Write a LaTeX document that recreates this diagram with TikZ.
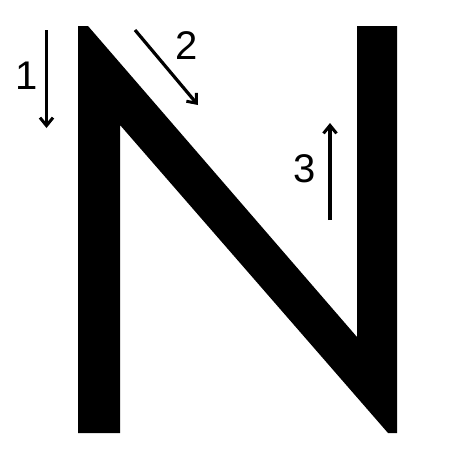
\documentclass[tikz,border=0pt]{standalone}
\usepackage{fontspec}
\setmainfont{Liberation Sans}
\usetikzlibrary{arrows.meta}
\tikzset{
  strokearrow/.style={line width=3.2pt, -{Straight Barb[length=8pt,width=13pt,line width=3pt]}},
  numlabel/.style={font=\fontsize{40}{42}\selectfont, inner sep=0pt}
}
\begin{document}
\begin{tikzpicture}[x=1pt,y=-1pt]
\useasboundingbox (0,0) rectangle (450,450);
% letter N
\fill[black] (78,26) -- (88,26) -- (357,337) -- (357,26) -- (397,26) -- (397,433)
  -- (388,433) -- (120,125) -- (120,433) -- (78,433) -- cycle;
% arrows
\coordinate (a1s) at (46.5,30);
\coordinate (a1e) at (46.5,128);
\coordinate (a2s) at (135,30);
\coordinate (a2e) at (198,105);
\coordinate (a3s) at (330,220);
\coordinate (a3e) at (330,123);
\draw[strokearrow] (a1s) -- (a1e);
\draw[strokearrow] (a2s) -- (a2e);
\draw[strokearrow] (a3s) -- (a3e);
% labels
\node[numlabel] (l1) at (26.5,76) {1};
\node[numlabel] (l2) at (187,46) {2};
\node[numlabel] (l3) at (305,169) {3};
\end{tikzpicture}
\end{document}
